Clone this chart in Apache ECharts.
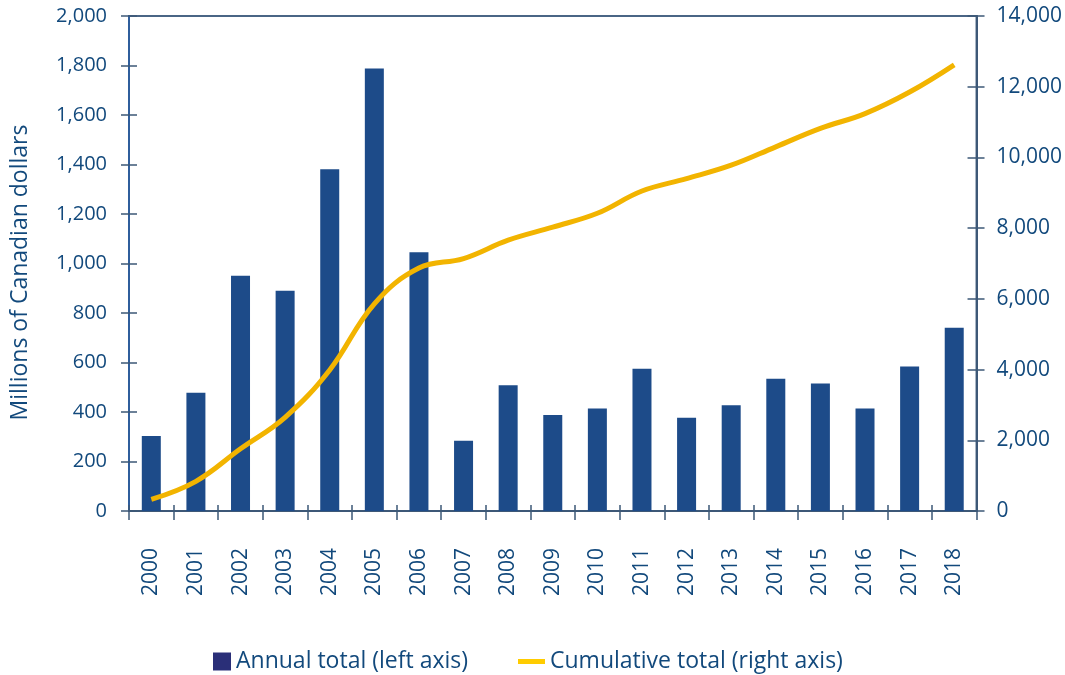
<!DOCTYPE html>
<html>
<head>
<meta charset="utf-8">
<script src="https://cdn.jsdelivr.net/npm/echarts@6/dist/echarts.min.js"></script>
<style>
  html, body { margin: 0; padding: 0; background: #ffffff; }
  #main { width: 1065px; height: 675px; }
</style>
</head>
<body>
<div id="main"></div>
<script>
// years on the category axis
var years = ['2000','2001','2002','2003','2004','2005','2006','2007','2008','2009',
             '2010','2011','2012','2013','2014','2015','2016','2017','2018'];
// annual total, millions of CAD (left axis)
var annualTotal = [303, 478, 951, 890, 1381, 1788, 1045, 284, 508, 388,
                   414, 575, 377, 427, 534, 515, 414, 584, 740];
// cumulative total, millions of CAD (right axis)
var cumulativeTotal = [330, 840, 1760, 2650, 3990, 5860, 6870, 7140, 7660, 8030,
                       8420, 9050, 9400, 9780, 10300, 10820, 11240, 11850, 12620];

var txtColor = '#12497c';
var axisColor = '#3d5877';
var fontName = 'Open Sans';

var myChart = echarts.init(document.getElementById('main'), null, { renderer: 'canvas' });

var option = {
    backgroundColor: '#ffffff',
    textStyle: { fontFamily: fontName },
    grid: {
        left: 129, right: 88, top: 16, bottom: 164,
        show: true, borderColor: '#4a6585', borderWidth: 2
    },
    legend: [{
        left: 213, top: 650, padding: 0,
        itemWidth: 18, itemHeight: 18, itemGap: 6,
        textStyle: { color: txtColor, fontSize: 23, fontFamily: fontName },
        data: [{ name: 'Annual total (left axis)', icon: 'rect', itemStyle: { color: '#2a2f78' } }]
    }, {
        left: 518, top: 650, padding: 0,
        itemWidth: 27, itemHeight: 5, itemGap: 6,
        textStyle: { color: txtColor, fontSize: 23, fontFamily: fontName },
        data: [{ name: 'Cumulative total (right axis)', icon: 'rect', itemStyle: { color: '#ffcc00' } }]
    }],
    xAxis: [{
        type: 'category', data: years, position: 'bottom',
        axisLine: { lineStyle: { color: axisColor, width: 2 } },
        axisTick: { show: true, length: 9, lineStyle: { color: axisColor, width: 1.5 } },
        axisLabel: { rotate: 90, margin: 37, color: txtColor, fontSize: 21, fontFamily: fontName }
    }, {
        // inner half of the crossing ticks
        type: 'category', data: years, position: 'bottom',
        axisLine: { show: false },
        axisTick: { show: true, inside: true, length: 6, lineStyle: { color: axisColor, width: 1.5 } },
        axisLabel: { show: false }
    }],
    yAxis: [{
        type: 'value', min: 0, max: 2000, interval: 200, position: 'left',
        name: 'Millions of Canadian dollars', nameLocation: 'middle', nameGap: 97,
        nameTextStyle: { color: txtColor, fontSize: 23, fontFamily: fontName, padding: [0, 18, 0, 0] },
        axisLine: { show: true, lineStyle: { color: '#2f5e9c', width: 2 } },
        axisTick: { show: true, length: 8, lineStyle: { color: axisColor, width: 1.5 } },
        splitLine: { show: false },
        axisLabel: {
            margin: 22, color: txtColor, fontSize: 20, fontFamily: fontName,
            formatter: function (v) { return v.toLocaleString('en-US'); }
        }
    }, {
        type: 'value', min: 0, max: 14000, interval: 2000, position: 'right',
        axisLine: { show: true, lineStyle: { color: axisColor, width: 2 } },
        axisTick: { show: true, length: 8, lineStyle: { color: axisColor, width: 1.5 } },
        splitLine: { show: false },
        axisLabel: {
            margin: 20, color: txtColor, fontSize: 21, fontFamily: fontName,
            formatter: function (v) { return v.toLocaleString('en-US'); }
        }
    }, {
        type: 'value', min: 0, max: 2000, interval: 200, position: 'left',
        axisLine: { show: false }, splitLine: { show: false }, axisLabel: { show: false },
        axisTick: { show: true, inside: true, length: 8, lineStyle: { color: axisColor, width: 1.5 } }
    }, {
        type: 'value', min: 0, max: 14000, interval: 2000, position: 'right',
        axisLine: { show: false }, splitLine: { show: false }, axisLabel: { show: false },
        axisTick: { show: true, inside: true, length: 9, lineStyle: { color: axisColor, width: 1.5 } }
    }],
    series: [{
        name: 'Annual total (left axis)',
        type: 'bar',
        xAxisIndex: 0, yAxisIndex: 0,
        barWidth: 19,
        itemStyle: { color: '#1d4b89' },
        data: annualTotal
    }, {
        name: 'Cumulative total (right axis)',
        type: 'line',
        xAxisIndex: 0, yAxisIndex: 1,
        smooth: 0.4,
        symbol: 'none',
        lineStyle: { color: '#f2b400', width: 5 },
        itemStyle: { color: '#f2b400' },
        data: cumulativeTotal
    }]
};

myChart.setOption(option);
</script>
</body>
</html>
